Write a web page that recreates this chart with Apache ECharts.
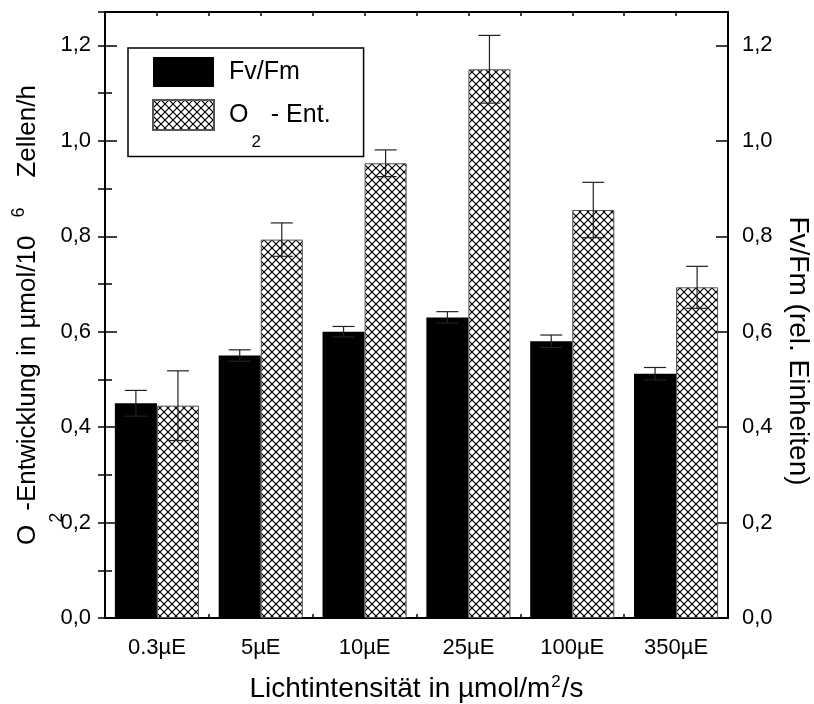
<!DOCTYPE html>
<html>
<head>
<meta charset="utf-8">
<script src="https://cdn.jsdelivr.net/npm/echarts@6/dist/echarts.min.js"></script>
<style>
  html, body { margin: 0; padding: 0; background: #fff; }
  #chart { width: 814px; height: 704px; }
</style>
</head>
<body>
<div id="chart"></div>
<script>
// Light intensity groups
const categories = ['0.3µE', '5µE', '10µE', '25µE', '100µE', '350µE'];
// Fv/Fm (relative units) with standard deviation
const fvfm = [0.45, 0.55, 0.60, 0.63, 0.58, 0.512];
const fvfmErr = [0.027, 0.012, 0.011, 0.012, 0.013, 0.013];
// O2 evolution in µmol / 10^6 cells / h with standard deviation
const o2 = [0.445, 0.793, 0.953, 1.150, 0.855, 0.693];
const o2Err = [0.073, 0.035, 0.028, 0.071, 0.058, 0.044];
// Value axis ticks
const yMin = 0, yMax = 1.27, yStep = 0.2;

const FONT = 'Liberation Sans, Arial, sans-serif';
const CAT_GAP = 0.19;

// Cross-hatch fill
function hatch() {
  const s = 8;
  const c = document.createElement('canvas');
  c.width = s; c.height = s;
  const g = c.getContext('2d');
  g.fillStyle = '#fff';
  g.fillRect(0, 0, s, s);
  g.strokeStyle = '#000';
  g.lineWidth = 1.2;
  for (const k of [-s, 0, s]) {
    g.beginPath(); g.moveTo(k, 0); g.lineTo(k + s, s); g.stroke();
    g.beginPath(); g.moveTo(k + s, 0); g.lineTo(k, s); g.stroke();
  }
  return c;
}

function fmtY(v) {
  const r = v / yStep;
  if (Math.abs(r - Math.round(r)) > 1e-6) return '';
  return v.toFixed(1).replace('.', ',');
}

function errorBars(sign) {
  return function (params, api) {
    const i = api.value(0), v = api.value(1), e = api.value(2);
    const catW = api.size([1, 0])[0];
    const bw = catW * (1 - CAT_GAP) / 2;
    const x = api.coord([i, v])[0] + sign * bw / 2;
    const yHi = api.coord([i, v + e])[1];
    const yLo = api.coord([i, v - e])[1];
    const cap = 11;
    const st = { stroke: '#222', lineWidth: 1.2 };
    return {
      type: 'group',
      children: [
        { type: 'line', shape: { x1: x, y1: yHi, x2: x, y2: yLo }, style: st },
        { type: 'line', shape: { x1: x - cap, y1: yHi, x2: x + cap, y2: yHi }, style: st },
        { type: 'line', shape: { x1: x - cap, y1: yLo, x2: x + cap, y2: yLo }, style: st }
      ]
    };
  };
}

const chart = echarts.init(document.getElementById('chart'), null, { renderer: 'canvas' });
const lineStyle = { color: '#000', width: 2 };

const mainY = {
  type: 'value', min: yMin, max: yMax, interval: yStep,
  axisLine: { show: true, onZero: false, lineStyle },
  axisTick: { show: true, inside: true, length: 12, lineStyle: { color: '#000', width: 1.5 } },
  axisLabel: { formatter: fmtY, color: '#000', fontSize: 22, fontFamily: FONT, margin: 14 },
  splitLine: { show: false },
  nameLocation: 'middle',
  nameMoveOverlap: false
};
const minorY = {
  type: 'value', min: yMin, max: yMax, interval: yStep / 2,
  axisLine: { show: false },
  axisTick: { show: true, inside: true, length: 7, lineStyle: { color: '#000', width: 1.5 } },
  axisLabel: { show: false },
  splitLine: { show: false }
};

// Every token of the rotated title has the same box height (76 px),
// so the sub-/superscript offsets come only from their paddings.
const titleRich = {
  b: { fontSize: 26, lineHeight: 30, padding: [23, 0, 23, 0] },
  end: { fontSize: 26, lineHeight: 30, padding: [23, 0, 23, 10] },
  sub: { fontSize: 18, lineHeight: 18, padding: [58, 2, 0, 2] },
  sup: { fontSize: 18, lineHeight: 18, padding: [20, 20, 38, 18] }
};

chart.setOption({
  animation: false,
  backgroundColor: '#fff',
  textStyle: { fontFamily: FONT, color: '#000' },
  grid: { left: 105, right: 86, top: 12, bottom: 86, outerBoundsMode: 'none', containLabel: false },
  legend: {
    left: 128, top: 48,
    orient: 'vertical',
    selectedMode: false,
    icon: 'rect',
    itemWidth: 61, itemHeight: 30, itemGap: -7.5,
    padding: [9, 33, 6, 24],
    borderColor: '#000', borderWidth: 1.5,
    data: ['Fv/Fm', 'O2 - Ent.'],
    formatter: function (name) {
      if (name === 'O2 - Ent.') return '{g|}{b|O}{s|2}{b| - Ent.}';
      return '{g|}{b|Fv/Fm}';
    },
    textStyle: {
      rich: {
        g: { width: 10 },
        b: { fontSize: 25, lineHeight: 30, color: '#000', fontFamily: FONT },
        s: { fontSize: 17, lineHeight: 17, padding: [54, 3, 0, 3], color: '#000', fontFamily: FONT }
      }
    }
  },
  xAxis: [
    {
      type: 'category', data: categories, position: 'bottom',
      axisLine: { onZero: false, lineStyle },
      axisTick: { alignWithLabel: true, length: 10, lineStyle: { color: '#000', width: 1.5 } },
      axisLabel: { color: '#000', fontSize: 22, fontFamily: FONT, margin: 19 },
      name: '{b|Lichtintensität in µmol/m}{sup|2}{b|/s}',
      nameLocation: 'middle', nameGap: 56, nameMoveOverlap: false,
      nameTextStyle: {
        rich: {
          b: { fontSize: 28, lineHeight: 30 },
          sup: { fontSize: 17, lineHeight: 18, padding: [0, 1, 14, 1] }
        }
      }
    },
    {
      type: 'value', position: 'top', min: 0, max: 6, interval: 0.5,
      axisLine: { show: true, onZero: false, lineStyle },
      axisTick: { show: true, inside: true, length: 4, lineStyle: { color: '#000', width: 1.5 } },
      axisLabel: { show: false }, splitLine: { show: false }
    },
    {
      type: 'value', position: 'bottom', min: 0, max: 6, interval: 1,
      axisLine: { show: false, onZero: false },
      axisTick: { show: true, inside: true, length: 4, lineStyle: { color: '#000', width: 1.5 } },
      axisLabel: { show: false }, splitLine: { show: false }
    }
  ],
  yAxis: [
    Object.assign({}, mainY, {
      position: 'left',
      name: '{b|O}{sub|2}{b|-Entwicklung in µmol/10}{sup|6}{end|Zellen/h}',
      nameGap: 62,
      nameTextStyle: { rich: titleRich }
    }),
    Object.assign({}, mainY, {
      position: 'right',
      name: '{b|Fv/Fm (rel. Einheiten)}',
      nameRotate: -90,
      nameGap: 55,
      nameTextStyle: {
        rich: { b: { fontSize: 28, lineHeight: 30, padding: [0, 0, 0, 72] } }
      }
    }),
    Object.assign({}, minorY, { position: 'left' }),
    Object.assign({}, minorY, { position: 'right' })
  ],
  series: [
    {
      name: 'Fv/Fm', type: 'bar', xAxisIndex: 0, yAxisIndex: 1,
      data: fvfm, barGap: '0%', barCategoryGap: (CAT_GAP * 100) + '%',
      itemStyle: { color: '#000' }
    },
    {
      name: 'O2 - Ent.', type: 'bar', xAxisIndex: 0, yAxisIndex: 0,
      data: o2, barGap: '0%', barCategoryGap: (CAT_GAP * 100) + '%',
      itemStyle: { color: { image: hatch(), repeat: 'repeat' }, borderColor: '#555', borderWidth: 1 }
    },
    {
      type: 'custom', xAxisIndex: 0, yAxisIndex: 1, z: 5,
      renderItem: errorBars(-1),
      encode: { x: 0, y: 1 },
      data: fvfm.map((v, i) => [i, v, fvfmErr[i]])
    },
    {
      type: 'custom', xAxisIndex: 0, yAxisIndex: 0, z: 5,
      renderItem: errorBars(1),
      encode: { x: 0, y: 1 },
      data: o2.map((v, i) => [i, v, o2Err[i]])
    }
  ]
});
</script>
</body>
</html>
